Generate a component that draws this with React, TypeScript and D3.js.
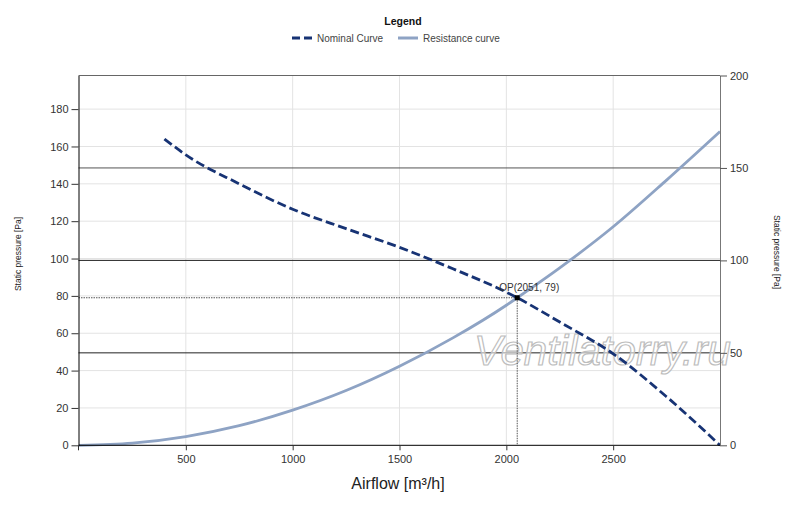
import { useEffect, useRef } from 'react';
import * as d3 from 'd3';

// values
const nominalFlow = [400, 500, 750, 1000, 1250, 1500, 1750, 2000, 2051, 2250, 2500, 2750, 3000];
const nominalPressure = [164, 155.5, 140, 126.4, 116, 106, 94.5, 82, 79, 66, 49, 26, 0];

const resistanceFlow = [0, 250, 500, 750, 1000, 1250, 1500, 1750, 2000, 2051, 2250, 2500, 2750, 3000];
const resistancePressure = [0, 1.2, 4.7, 10.5, 18.8, 29.3, 42.3, 57.5, 75, 79, 95, 117, 142, 168];

const xTicks = [500, 1000, 1500, 2000, 2500];
const leftTicks = [0, 20, 40, 60, 80, 100, 120, 140, 160, 180];
const rightTicks = [0, 50, 100, 150, 200];

const opFlow = 2051;
const opPressure = 79;

const FONT = 'Liberation Sans, Arial, sans-serif';

export default function App() {
    const svgRef = useRef<SVGSVGElement>(null);

    useEffect(() => {
        if (!svgRef.current) return;
        const svg = d3.select(svgRef.current);
        svg.selectAll('*').remove();

        const left = 78.5, right = 720, top = 75.5, bottom = 445.3;

        const x = d3.scaleLinear().domain([0, 3000]).range([79, 720]);
        const yL = d3.scaleLinear().domain([0, 198]).range([bottom, top]);
        const yR = d3.scaleLinear().domain([0, 200]).range([bottom, top]);

        svg.append('rect').attr('width', 800).attr('height', 507).attr('fill', '#fff');

        // light gridlines
        const grid = svg.append('g');
        for (const t of leftTicks.filter(t => t > 0)) {
            grid.append('line')
                .attr('x1', left).attr('x2', right)
                .attr('y1', yL(t)).attr('y2', yL(t))
                .attr('stroke', '#e3e3e3').attr('stroke-width', 1);
        }
        for (const t of xTicks) {
            grid.append('line')
                .attr('x1', x(t)).attr('x2', x(t))
                .attr('y1', top).attr('y2', bottom)
                .attr('stroke', '#e3e3e3').attr('stroke-width', 1);
        }
        // dark lines at right axis ticks
        for (const t of rightTicks.filter(t => t > 0 && t < 200)) {
            grid.append('line')
                .attr('x1', left).attr('x2', right)
                .attr('y1', yR(t)).attr('y2', yR(t))
                .attr('stroke', t === 150 ? '#555' : '#222').attr('stroke-width', 1);
        }
        // top border
        svg.append('line')
            .attr('x1', left).attr('x2', right)
            .attr('y1', top).attr('y2', top)
            .attr('stroke', '#666').attr('stroke-width', 1);

        // watermark
        svg.append('text')
            .attr('x', 474).attr('y', 365)
            .attr('font-family', FONT).attr('font-style', 'italic')
            .attr('font-size', 42)
            .attr('fill', '#fff').attr('fill-opacity', 0.55)
            .attr('stroke', '#bdbdbd').attr('stroke-width', 1.2)
            .text('Ventilatorry.ru');

        // operating point guides
        svg.append('line')
            .attr('x1', left).attr('x2', x(opFlow))
            .attr('y1', yL(opPressure)).attr('y2', yL(opPressure))
            .attr('stroke', '#555').attr('stroke-width', 1).attr('stroke-dasharray', '1.5,1');
        svg.append('line')
            .attr('x1', x(opFlow)).attr('x2', x(opFlow))
            .attr('y1', yL(opPressure)).attr('y2', bottom)
            .attr('stroke', '#555').attr('stroke-width', 1).attr('stroke-dasharray', '1.5,1');

        const line = d3.line<[number, number]>()
            .x(d => x(d[0]))
            .y(d => yL(d[1]))
            .curve(d3.curveMonotoneX);

        // resistance curve
        svg.append('path')
            .attr('d', line(resistanceFlow.map((f, i) => [f, resistancePressure[i]]))!)
            .attr('fill', 'none').attr('stroke', '#8ea3c4').attr('stroke-width', 2.8);

        // nominal curve
        svg.append('path')
            .attr('d', line(nominalFlow.map((f, i) => [f, nominalPressure[i]]))!)
            .attr('fill', 'none').attr('stroke', '#173374').attr('stroke-width', 2.8)
            .attr('stroke-dasharray', '9,4');

        // operating point
        svg.append('rect')
            .attr('x', x(opFlow) - 2.5).attr('y', yL(opPressure) - 2.5)
            .attr('width', 5).attr('height', 5).attr('fill', '#000');
        svg.append('text')
            .attr('x', x(opFlow) + 12).attr('y', yL(opPressure) - 7)
            .attr('text-anchor', 'middle')
            .attr('font-family', FONT).attr('font-size', 10).attr('fill', '#333')
            .text(`OP(${opFlow}, ${opPressure})`);

        // left axis
        const gL = svg.append('g').attr('transform', `translate(${left},0)`)
            .call(d3.axisLeft(yL).tickValues(leftTicks).tickSize(7).tickPadding(3).tickSizeOuter(0));
        gL.select('.domain').attr('stroke', '#000');
        gL.selectAll('.tick line').attr('stroke', '#333');
        gL.selectAll('text').attr('font-family', FONT).attr('font-size', 11).attr('fill', '#333');

        // right axis
        const gR = svg.append('g').attr('transform', `translate(${right},0)`)
            .call(d3.axisRight(yR).tickValues(rightTicks).tickSize(7).tickPadding(3).tickSizeOuter(0));
        gR.select('.domain').attr('stroke', '#777');
        gR.selectAll('.tick line').attr('stroke', '#555');
        gR.selectAll('text').attr('font-family', FONT).attr('font-size', 11).attr('fill', '#333');

        // bottom axis
        const gB = svg.append('g').attr('transform', `translate(0,${bottom})`)
            .call(d3.axisBottom(x).tickValues(xTicks).tickFormat(d3.format('d')).tickSize(5).tickPadding(5).tickSizeOuter(0));
        gB.select('.domain').attr('stroke', '#000').attr('d', `M${left},0H${right}`);
        gB.selectAll('.tick line').attr('stroke', '#333');
        gB.selectAll('text').attr('font-family', FONT).attr('font-size', 11).attr('fill', '#333');
        gB.append('line').attr('x1', left).attr('x2', left).attr('y1', 0).attr('y2', 5).attr('stroke', '#333');

        // axis titles
        svg.append('text')
            .attr('transform', `translate(21,254) rotate(-90)`)
            .attr('text-anchor', 'middle')
            .attr('font-family', FONT).attr('font-size', 8.5).attr('fill', '#222')
            .text('Static pressure [Pa]');
        svg.append('text')
            .attr('transform', `translate(774,252) rotate(90)`)
            .attr('text-anchor', 'middle')
            .attr('font-family', FONT).attr('font-size', 8.5).attr('fill', '#222')
            .text('Static pressure [Pa]');
        svg.append('text')
            .attr('x', 398).attr('y', 489)
            .attr('text-anchor', 'middle')
            .attr('font-family', FONT).attr('font-size', 16).attr('fill', '#222')
            .text('Airflow [m³/h]');

        // legend
        const leg = svg.append('g');
        leg.append('text')
            .attr('x', 403).attr('y', 25)
            .attr('text-anchor', 'middle')
            .attr('font-family', FONT).attr('font-size', 10.5).attr('font-weight', 'bold').attr('fill', '#111')
            .text('Legend');
        leg.append('line')
            .attr('x1', 292).attr('x2', 312).attr('y1', 38).attr('y2', 38)
            .attr('stroke', '#173374').attr('stroke-width', 3).attr('stroke-dasharray', '8,4');
        leg.append('text')
            .attr('x', 317).attr('y', 41.5)
            .attr('font-family', FONT).attr('font-size', 10).attr('fill', '#444')
            .text('Nominal Curve');
        leg.append('line')
            .attr('x1', 398).attr('x2', 418).attr('y1', 38).attr('y2', 38)
            .attr('stroke', '#8ea3c4').attr('stroke-width', 3);
        leg.append('text')
            .attr('x', 423).attr('y', 41.5)
            .attr('font-family', FONT).attr('font-size', 10).attr('fill', '#444')
            .text('Resistance curve');
    }, []);

    return (
        <svg
            ref={svgRef}
            width={800}
            height={507}
            style={{ position: 'absolute', left: 0, top: 0, display: 'block' }}
        />
    );
}
